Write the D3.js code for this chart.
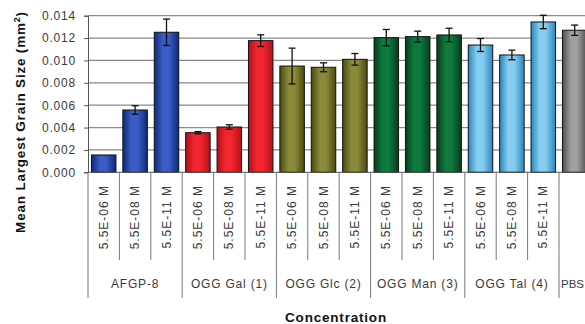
<!DOCTYPE html>
<html><head><meta charset="utf-8">
<script src="https://cdn.jsdelivr.net/npm/d3@7"></script>
<style>body{margin:0;background:#fff}svg{display:block}text{font-family:"Liberation Sans",Arial,sans-serif}</style>
</head><body><svg id="c" width="585" height="324"></svg>
<script>
const groups = ["AFGP-8","OGG Gal (1)","OGG Glc (2)","OGG Man (3)","OGG Tal (4)","PBS"];
const concLabels = ["5.5E-06 M","5.5E-08 M","5.5E-11 M"];
const barGroups = [0,0,0,1,1,1,2,2,2,3,3,3,4,4,4,5];
const barConc  = ["5.5E-06 M","5.5E-08 M","5.5E-11 M","5.5E-06 M","5.5E-08 M","5.5E-11 M","5.5E-06 M","5.5E-08 M","5.5E-11 M","5.5E-06 M","5.5E-08 M","5.5E-11 M","5.5E-06 M","5.5E-08 M","5.5E-11 M",""];
const means  = [0.00155,0.00557,0.01252,0.00354,0.00405,0.01177,0.0095,0.00939,0.0101,0.01204,0.01213,0.01228,0.01138,0.01049,0.01344,0.0127];
const errors = [0,0.00038,0.00118,0.0001,0.0002,0.00052,0.0016,0.0004,0.00052,0.00073,0.00049,0.0006,0.00058,0.00043,0.0006,0.00046];
const groupColors = [["#0d2a7a","#3b5cc4"],["#b0101a","#f2262e"],["#4a4a12","#8a8a3a"],["#053d1c","#0f7a3e"],["#2a86bf","#86cdf0"],["#4e4e4e","#a0a0a0"]];
const yTicks = [0,0.002,0.004,0.006,0.008,0.010,0.012,0.014];

const svg = d3.select("#c");
const x0 = 88, slot = 31.4;
const x = d3.scaleBand().domain(d3.range(means.length)).range([x0, x0 + slot*means.length]).paddingInner(0.22).paddingOuter(0.11);
const y = d3.scaleLinear().domain([0,0.014]).range([172.3,15.7]);

const defs = svg.append("defs");
groupColors.forEach((c,i)=>{
  const g = defs.append("linearGradient").attr("id","g"+i).attr("x1","0").attr("x2","1").attr("y1","0").attr("y2","0");
  g.append("stop").attr("offset","0").attr("stop-color",c[0]);
  g.append("stop").attr("offset","0.35").attr("stop-color",c[1]);
  g.append("stop").attr("offset","0.6").attr("stop-color",c[1]);
  g.append("stop").attr("offset","1").attr("stop-color",c[0]);
});

// gridlines
svg.append("g").selectAll("line").data(yTicks.slice(1)).join("line")
  .attr("x1",x0).attr("x2",600).attr("y1",d=>y(d)).attr("y2",d=>y(d))
  .attr("stroke","#8a8a8a").attr("stroke-width",1.2);

// y axis
const yAxis = d3.axisLeft(y).tickValues(yTicks).tickFormat(d3.format(".3f")).tickSize(4).tickPadding(8);
const ya = svg.append("g").attr("transform",`translate(${x0},0)`).call(yAxis);
ya.select(".domain").attr("stroke","#555");
ya.selectAll(".tick line").attr("stroke","#555");
ya.selectAll("text").attr("font-size",12).attr("letter-spacing",0.8).attr("fill","#3a3a3a");

// bars
svg.append("g").selectAll("rect").data(means).join("rect")
  .attr("x",(d,i)=>x(i)).attr("width",x.bandwidth())
  .attr("y",d=>y(d)).attr("height",d=>y(0)-y(d))
  .attr("fill",(d,i)=>`url(#g${barGroups[i]})`)
  .attr("stroke","#111").attr("stroke-width",1);

// error bars
const eb = svg.append("g").attr("stroke","#111").attr("stroke-width",1.3);
means.forEach((m,i)=>{
  const e = errors[i]; if(!e) return;
  const cx = x(i)+x.bandwidth()/2;
  eb.append("line").attr("x1",cx).attr("x2",cx).attr("y1",y(m+e)).attr("y2",y(m-e));
  eb.append("line").attr("x1",cx-3.5).attr("x2",cx+3.5).attr("y1",y(m+e)).attr("y2",y(m+e));
  eb.append("line").attr("x1",cx-3.5).attr("x2",cx+3.5).attr("y1",y(m-e)).attr("y2",y(m-e));
});

// x baseline
svg.append("line").attr("x1",x0).attr("x2",600).attr("y1",y(0)).attr("y2",y(0)).attr("stroke","#555");

// category separators
const sep = svg.append("g").attr("stroke","#777").attr("stroke-width",1);
for(let i=0;i<=means.length;i++){
  const xx = x0 + i*slot;
  const isGroup = i===0 || barGroups[i]!==barGroups[i-1] || i===means.length;
  sep.append("line").attr("x1",xx).attr("x2",xx).attr("y1",y(0)).attr("y2",isGroup?298:260);
}

// concentration labels
svg.append("g").selectAll("text").data(barConc).join("text")
  .attr("transform",(d,i)=>`translate(${x(i)+x.bandwidth()/2+4},185) rotate(-90)`)
  .attr("text-anchor","end").attr("font-size",12).attr("letter-spacing",1).attr("fill","#3a3a3a").text(d=>d);

// group labels
groups.forEach((g,gi)=>{
  const idx = barGroups.map((b,i)=>b===gi?i:-1).filter(i=>i>=0);
  const xs = x0 + idx[0]*slot, xe = x0 + (idx[idx.length-1]+1)*slot;
  const t = svg.append("text").attr("y",288).attr("font-size",12).attr("fill","#3a3a3a").text(g);
  if(g==="PBS") t.attr("x",xs+2).attr("text-anchor","start").attr("font-size",11.5);
  else t.attr("x",(xs+xe)/2).attr("text-anchor","middle").attr("letter-spacing",0.8);
});

// titles
svg.append("text").attr("x",336).attr("y",322).attr("text-anchor","middle").attr("font-size",13.5).attr("letter-spacing",0.8).attr("font-weight","bold").attr("fill","#111").text("Concentration");
const yt = svg.append("text").attr("transform","translate(25,122) rotate(-90)").attr("text-anchor","middle").attr("font-size",13.5).attr("letter-spacing",0.8).attr("font-weight","bold").attr("fill","#111");
yt.append("tspan").text("Mean Largest Grain Size (mm");
yt.append("tspan").attr("font-size",9).attr("dy",-5).text("2");
yt.append("tspan").attr("dy",5).text(")");
</script></body></html>
